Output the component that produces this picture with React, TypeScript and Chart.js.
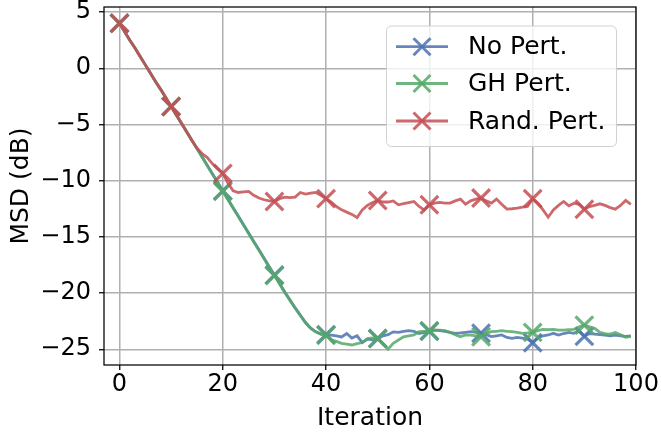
import React, { useEffect, useRef } from "react";
import { Chart, registerables } from "chart.js";

Chart.register(...registerables);

// ---------- data ----------
const iterations: number[] = Array.from({ length: 100 }, (_, i) => i);

const noPert: number[] = [
  4.0, 3.25, 2.5, 1.8, 1.05, 0.3, -0.45, -1.2, -1.9, -2.65,
  -3.4, -4.15, -4.9, -5.65, -6.4, -7.15, -7.9, -8.65, -9.4, -10.15,
  -10.9, -11.65, -12.4, -13.15, -13.9, -14.65, -15.4, -16.15, -16.9, -17.65,
  -18.4, -19.15, -19.9, -20.6, -21.3, -21.95, -22.6, -23.1, -23.45, -23.65,
  -23.7, -23.75, -23.8, -23.9, -23.6, -24.0, -23.8, -24.4, -24.1, -24.15,
  -24.05, -23.8, -23.7, -23.45, -23.5, -23.4, -23.35, -23.4, -23.6, -23.5,
  -23.4, -23.3, -23.35, -23.4, -23.5, -23.58, -23.55, -23.5, -23.44, -23.5,
  -23.58, -23.7, -23.88, -23.8, -23.73, -23.95, -24.03, -23.94, -24.0, -24.1,
  -24.42, -24.0, -23.8, -23.73, -23.58, -23.73, -23.6, -23.5, -23.58, -23.35,
  -23.85, -23.6, -23.65, -23.7, -23.75, -23.8, -23.75, -23.8, -23.85, -23.8,
];

const ghPert: number[] = [
  4.0, 3.25, 2.5, 1.8, 1.05, 0.3, -0.45, -1.2, -1.9, -2.65,
  -3.4, -4.15, -4.9, -5.65, -6.4, -7.15, -7.9, -8.65, -9.4, -10.15,
  -10.95, -11.7, -12.45, -13.2, -13.95, -14.7, -15.45, -16.2, -16.95, -17.7,
  -18.45, -19.2, -19.95, -20.65, -21.35, -22.0, -22.65, -23.15, -23.45, -23.65,
  -23.75, -24.15, -24.3, -24.48, -24.55, -24.62, -24.5, -24.4, -24.05, -24.0,
  -24.05, -24.5, -25.0, -24.48, -24.18, -23.9, -23.8, -23.73, -23.44, -23.4,
  -23.35, -23.3, -23.3, -23.35, -23.5, -23.7, -23.88, -23.73, -23.75, -23.8,
  -23.88, -23.6, -23.44, -23.4, -23.35, -23.4, -23.44, -23.5, -23.58, -23.55,
  -23.5, -23.35, -23.23, -23.25, -23.23, -23.3, -23.3, -23.25, -23.23, -23.0,
  -22.85, -23.0, -23.14, -23.5, -23.6, -23.65, -23.5, -23.7, -23.94, -23.85,
];

const randPert: number[] = [
  4.0, 3.25, 2.5, 1.8, 1.05, 0.3, -0.45, -1.2, -1.9, -2.65,
  -3.4, -4.15, -4.9, -5.65, -6.4, -7.1, -7.6, -7.95, -8.5, -8.95,
  -9.35, -10.2, -10.9, -11.05, -11.0, -10.96, -11.3, -11.55, -11.7, -11.8,
  -11.85, -11.6, -11.46, -11.5, -11.46, -11.05, -11.2, -11.1, -11.05, -11.3,
  -11.6, -11.9, -12.3, -12.6, -12.8, -13.0, -13.28, -12.6, -12.2, -11.95,
  -11.76, -11.9, -11.9, -11.8, -12.15, -12.05, -11.95, -11.85, -12.3, -12.6,
  -12.15, -12.0, -11.94, -12.0, -12.0, -11.8, -11.64, -12.09, -11.8, -11.64,
  -11.55, -11.8, -12.0, -11.64, -12.1, -12.53, -12.5, -12.44, -12.35, -12.3,
  -11.6, -12.0, -12.6, -13.25, -12.6, -12.2, -11.85, -12.24, -12.0, -12.1,
  -12.55, -12.3, -12.2, -12.06, -12.2, -12.4, -12.53, -12.2, -11.76, -12.1,
];

const seriesNames: string[] = ["No Pert.", "GH Pert.", "Rand. Pert."];
const seriesColors: string[] = [
  "rgba(76,114,176,0.85)",
  "rgba(85,168,104,0.85)",
  "rgba(196,78,82,0.85)",
];
const xTicks: number[] = [0, 20, 40, 60, 80, 100];
const yTicks: number[] = [5, 0, -5, -10, -15, -20, -25];

const FONT = "'DejaVu Sans', 'Liberation Sans', sans-serif";

function fmt(v: number): string {
  return v < 0 ? "\u2212" + String(Math.abs(v)) : String(v);
}

const frameAndLegend = {
  id: "frameAndLegend",
  afterDatasetsDraw(chart: any) {
    const { ctx, chartArea } = chart;
    ctx.save();
    ctx.strokeStyle = "#000";
    ctx.lineWidth = 1.25;
    ctx.strokeRect(chartArea.left, chartArea.top, chartArea.right - chartArea.left, chartArea.bottom - chartArea.top);
    ctx.restore();
  },
  afterDraw(chart: any) {
    const { ctx } = chart;
    ctx.save();
    const bx = 386.5, by = 26, bw = 230, bh = 120.5, r = 5;
    ctx.beginPath();
    ctx.moveTo(bx + r, by);
    ctx.lineTo(bx + bw - r, by);
    ctx.arcTo(bx + bw, by, bx + bw, by + r, r);
    ctx.lineTo(bx + bw, by + bh - r);
    ctx.arcTo(bx + bw, by + bh, bx + bw - r, by + bh, r);
    ctx.lineTo(bx + r, by + bh);
    ctx.arcTo(bx, by + bh, bx, by + bh - r, r);
    ctx.lineTo(bx, by + r);
    ctx.arcTo(bx, by, bx + r, by, r);
    ctx.closePath();
    ctx.fillStyle = "rgba(255,255,255,0.8)";
    ctx.fill();
    ctx.strokeStyle = "rgba(204,204,204,0.9)";
    ctx.lineWidth = 1;
    ctx.stroke();

    const rows = [46.7, 83.5, 121];
    chart.data.datasets.forEach((ds: any, i: number) => {
      const y = rows[i];
      ctx.strokeStyle = ds.borderColor;
      ctx.lineWidth = 2.8;
      ctx.beginPath();
      ctx.moveTo(396, y);
      ctx.lineTo(448, y);
      ctx.stroke();
      const m = 8.5;
      ctx.lineWidth = 3;
      ctx.beginPath();
      ctx.moveTo(422 - m, y - m);
      ctx.lineTo(422 + m, y + m);
      ctx.moveTo(422 - m, y + m);
      ctx.lineTo(422 + m, y - m);
      ctx.stroke();
      ctx.fillStyle = "#000";
      ctx.font = `25px ${FONT}`;
      ctx.textAlign = "left";
      ctx.textBaseline = "middle";
      ctx.fillText(ds.label, 468, y + 1);
    });
    ctx.restore();
  },
};

export default function App() {
  const ref = useRef<HTMLCanvasElement | null>(null);

  useEffect(() => {
    if (!ref.current) return;
    const allSeries = [noPert, ghPert, randPert];
    const datasets = allSeries.map((vals, i) => ({
      label: seriesNames[i],
      data: iterations.map((x, j) => ({ x, y: vals[j] })),
      borderColor: seriesColors[i],
      backgroundColor: seriesColors[i],
      pointBorderColor: seriesColors[i],
      borderWidth: 2.8,
      pointStyle: "crossRot",
      pointRadius: (c: any) => (c.dataIndex % 10 === 0 ? 12.5 : 0),
      pointBorderWidth: 3.2,
      pointHoverRadius: 0,
      tension: 0,
      fill: false,
      order: 3 - i,
    }));

    const chart = new Chart(ref.current, {
      type: "line",
      data: { datasets },
      plugins: [frameAndLegend],
      options: {
        animation: false,
        responsive: false,
        devicePixelRatio: 1,
        layout: { autoPadding: false, padding: { top: 7, right: 25, left: 0, bottom: 0 } },
        plugins: { legend: { display: false }, tooltip: { enabled: false } },
        scales: {
          x: {
            type: "linear",
            min: -3,
            max: 100,
            afterBuildTicks: (s: any) => {
              s.ticks = xTicks.map((v) => ({ value: v }));
            },
            afterFit: (s: any) => {
              s.height = 69;
              s.paddingLeft = 0;
              s.paddingRight = 0;
            },
            grid: {
              color: "#b0b0b0",
              lineWidth: 1.5,
              drawTicks: true,
              tickLength: 5,
              tickColor: "#000",
              tickWidth: 1.25,
            },
            border: { display: false },
            ticks: {
              color: "#000",
              font: { family: FONT, size: 24, lineHeight: 1.0 },
              padding: 3,
              maxRotation: 0,
              callback: (v: any) => fmt(Number(v)),
            },
            title: {
              display: true,
              text: "Iteration",
              color: "#000",
              font: { family: FONT, size: 25, lineHeight: 1.2 },
              padding: { top: 0, bottom: 1 },
            },
          },
          y: {
            type: "linear",
            min: -26.4,
            max: 5.45,
            afterBuildTicks: (s: any) => {
              s.ticks = yTicks.map((v) => ({ value: v }));
            },
            afterFit: (s: any) => {
              s.width = 104;
              s.paddingTop = 0;
              s.paddingBottom = 0;
            },
            grid: {
              color: "#b0b0b0",
              lineWidth: 1.5,
              drawTicks: true,
              tickLength: 5,
              tickColor: "#000",
              tickWidth: 1.25,
            },
            border: { display: false },
            ticks: {
              color: "#000",
              font: { family: FONT, size: 24 },
              padding: 8,
              callback: (v: any) => fmt(Number(v)),
            },
            title: {
              display: true,
              text: "MSD (dB)",
              color: "#000",
              font: { family: FONT, size: 25, lineHeight: 1.16 },
              padding: { top: 7, bottom: 0 },
            },
          },
        },
      },
    } as any);
    return () => chart.destroy();
  }, []);

  return (
    <div style={{ position: "absolute", left: 0, top: 0, width: 661, height: 434, background: "#fff" }}>
      <canvas ref={ref} width={661} height={434} style={{ width: 661, height: 434 }} />
    </div>
  );
}
